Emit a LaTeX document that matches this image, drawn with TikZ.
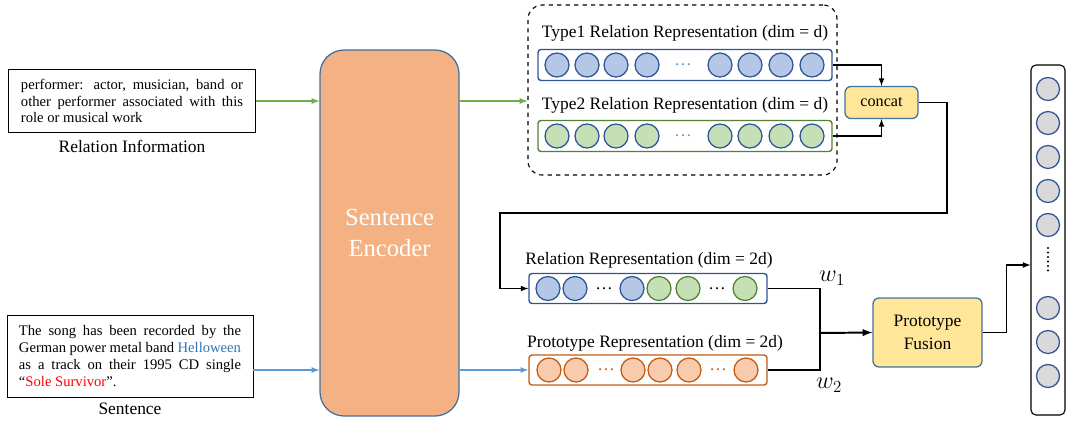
\documentclass[tikz,border=0pt]{standalone}
\usepackage{fontspec}
\setmainfont{Liberation Serif}
\usepackage{xcolor}
\usetikzlibrary{arrows}
\definecolor{blueline}{HTML}{2F5597}
\definecolor{bluefill}{HTML}{B4C7E7}
\definecolor{greenline}{HTML}{548235}
\definecolor{greenfill}{HTML}{C5E0B4}
\definecolor{orangeline}{HTML}{C55A11}
\definecolor{orangefill}{HTML}{F8CBAD}
\definecolor{grayfill}{HTML}{D9D9D9}
\definecolor{yellowfill}{HTML}{FFE699}
\definecolor{boxline}{HTML}{41719C}
\definecolor{encfill}{HTML}{F4B183}
\definecolor{garrow}{HTML}{70AD47}
\definecolor{barrow}{HTML}{5B9BD5}
\definecolor{wordblue}{HTML}{2E75B6}
\newcommand\pxu{0.025cm}
\newcommand\smalltxt{\fontsize{10.4}{11.8}\selectfont\hyphenpenalty=10000\exhyphenpenalty=10000}
\newcommand\captxt{\fontsize{12.4}{15}\selectfont}
\tikzstyle{arr}=[->,>=latex,line width=0.85pt]
\tikzstyle{garr}=[arr,draw=garrow,line width=0.9pt]
\tikzstyle{barr}=[arr,draw=barrow,line width=0.9pt]
\tikzstyle{txtbox}=[draw,semithick,align=justify,inner sep=0pt]
\tikzstyle{caption}=[inner sep=0pt,font=\captxt]
\tikzstyle{bar}=[draw,line width=1pt,rounded corners=3*\pxu,
  minimum width=238*\pxu,minimum height=30*\pxu]
\tikzstyle{unit}=[circle,draw=blueline,line width=0.9pt,
  minimum size=24*\pxu,inner sep=0pt]
\tikzstyle{yellowbox}=[draw=boxline,fill=yellowfill,line width=0.9pt,
  rounded corners=6*\pxu,align=center]

\begin{document}
\begin{tikzpicture}[x=\pxu,y=-\pxu]
  \useasboundingbox (0,0) rectangle (1072,421);

  % inputs
  \node[txtbox,text width=222*\pxu,minimum width=247*\pxu,minimum height=63*\pxu]
    (relinfo) at (132,101) {\smalltxt performer: actor, musician, band or
    other performer associated with this role or musical work};
  \node[caption] (relcap) at (132,146) {Relation Information};
  \node[txtbox,text width=222*\pxu,minimum width=246*\pxu,minimum height=82*\pxu]
    (sent) at (130,356) {\smalltxt The song has been recorded by the German
    power metal band \textcolor{wordblue}{Helloween} as a track on their 1995
    CD single ``\textcolor{red}{Sole Survivor}''.};
  \node[caption] (sentcap) at (130,409) {Sentence};

  % encoder
  \node[draw=boxline,fill=encfill,line width=0.9pt,rounded corners=24*\pxu,
    minimum width=139*\pxu,minimum height=366*\pxu,align=center,text=white,
    font=\fontsize{17.5}{22.7}\selectfont] (enc) at (389.5,233) {Sentence\\Encoder};

  % two relation types
  \node[draw,dashed,line width=0.8pt,rounded corners=14*\pxu,
    minimum width=309*\pxu,minimum height=170*\pxu] (dash) at (682.5,90) {};
  \node[caption] (t1cap) at (685,33) {Type1 Relation Representation (dim = d)};
  \node[bar,draw=blueline,minimum width=294*\pxu,minimum height=31*\pxu] (t1bar) at (685,65) {};
  \foreach \n/\x in {1/557,2/587,3/616,4/647,5/720,6/750,7/781,8/812}
    \node[unit,fill=bluefill] (t1u\n) at (\x,65) {};
  \node[text=barrow,inner sep=0pt] (t1dots) at (683,65) {\captxt\ldots};
  \node[caption] (t2cap) at (685,105) {Type2 Relation Representation (dim = d)};
  \node[bar,draw=greenline,minimum width=294*\pxu,minimum height=31*\pxu] (t2bar) at (685,136) {};
  \foreach \n/\x in {1/557,2/587,3/616,4/647,5/720,6/750,7/781,8/812}
    \node[unit,fill=greenfill] (t2u\n) at (\x,136) {};
  \node[text=garrow,inner sep=0pt] (t2dots) at (683,136) {\captxt\ldots};

  \node[yellowbox,minimum width=73*\pxu,minimum height=32*\pxu,
    font=\fontsize{11.5}{13}\selectfont] (concat) at (881.5,102.5) {concat};

  % relation / prototype
  \node[caption] (relrepcap) at (649,260) {Relation Representation (dim = 2d)};
  \node[bar,draw=blueline] (relbar) at (648,288.5) {};
  \foreach \n/\x/\c/\l in {1/548/bluefill/blueline,2/575/bluefill/blueline,
      3/632/bluefill/blueline,4/659/greenfill/greenline,
      5/688/greenfill/greenline,6/745/greenfill/greenline}
    \node[unit,fill=\c,draw=\l] (ru\n) at (\x,288.5) {};
  \node[inner sep=0pt] (rdots1) at (604,288.5) {\captxt\ldots};
  \node[inner sep=0pt] (rdots2) at (717,288.5) {\captxt\ldots};

  \node[caption] (protocap) at (655,343) {Prototype Representation (dim = 2d)};
  \node[bar,draw=orangeline] (protobar) at (648,370) {};
  \foreach \n/\x in {1/549,2/576,3/633,4/660,5/689,6/746}
    \node[unit,fill=orangefill,draw=orangeline] (pu\n) at (\x,370) {};
  \node[text=orangeline,inner sep=0pt] (pdots1) at (606,370) {\captxt\ldots};
  \node[text=orangeline,inner sep=0pt] (pdots2) at (718,370) {\captxt\ldots};

  \node[yellowbox,minimum width=109*\pxu,minimum height=69*\pxu,
    font=\fontsize{12.4}{16}\selectfont] (fusion) at (927.5,332.5) {Prototype\\Fusion};

  % output
  \node[draw,line width=0.8pt,rounded corners=5*\pxu,minimum width=34*\pxu,
    minimum height=350*\pxu] (out) at (1048,240) {};
  \foreach \n/\y in {1/89,2/123,3/157,4/191,5/225,6/308,7/342,8/376}
    \node[unit,fill=grayfill,minimum size=23*\pxu] (o\n) at (1048,\y) {};
  \foreach \y in {248,252.5,...,271}
    \fill (1048,\y) circle (1.2);

  \coordinate (turn1) at (947,213);
  \coordinate (turn2) at (500,213);
  \coordinate (join) at (820,333);
  \coordinate (hit) at (out.west |- 0,265);

  \node[font=\fontsize{17}{19}\selectfont] (w1) at (832,278) {$w_1$};
  \node[font=\fontsize{17}{19}\selectfont] (w2) at (829,385) {$w_2$};

  % connectors
  \draw[garr] (relinfo.east) -- (relinfo.east -| enc.west);
  \draw[garr] (relinfo.east -| enc.east) -- (relinfo.east -| dash.west);
  \draw[barr] (protobar.west -| sent.east) -- (protobar.west -| enc.west);
  \draw[barr] (protobar.west -| enc.east) -- (protobar.west);
  \draw[arr] (t1bar.east) -| (concat.north);
  \draw[arr] (t2bar.east) -| (concat.south);
  \draw[arr] (concat.east) -| (turn1) -- (turn2) |- (relbar.west);
  \draw[line width=0.85pt] (relbar.east) -| (join);
  \draw[line width=0.85pt] (protobar.east) -| (join);
  \draw[arr,line width=1.4pt] (join) -- (fusion.west);
  \draw[arr] (fusion.east) -- ++(24,0) |- (hit);
\end{tikzpicture}
\end{document}
